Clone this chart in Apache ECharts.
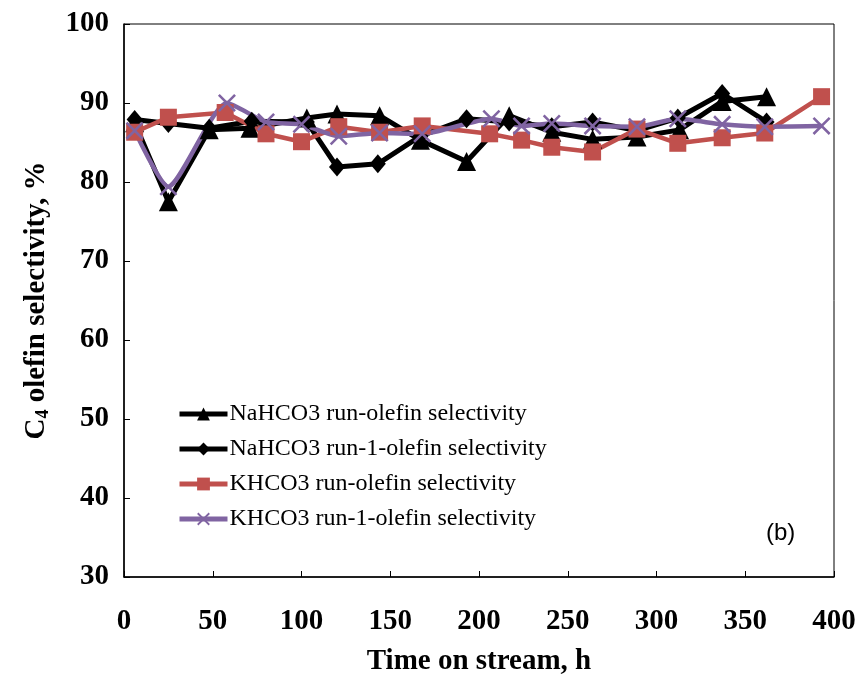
<!DOCTYPE html>
<html>
<head>
<meta charset="utf-8">
<script src="https://cdn.jsdelivr.net/npm/echarts@6/dist/echarts.min.js"></script>
<style>html,body{margin:0;padding:0;background:#fff}#c{width:864px;height:682px}</style>
</head>
<body>
<div id="c"></div>
<script>
var seriesNames = ['NaHCO3 run-olefin selectivity','NaHCO3 run-1-olefin selectivity','KHCO3 run-olefin selectivity','KHCO3 run-1-olefin selectivity'];
var naX  = [6, 25, 48, 71, 103, 120, 144, 167, 193, 217, 241, 264, 289, 313, 337, 362];
var naY  = [87.5, 77.5, 86.6, 86.8, 88.1, 88.6, 88.4, 85.3, 82.6, 88.4, 86.3, 85.4, 85.7, 86.6, 90.2, 90.8];
var na1X = [6, 25, 48, 72, 103, 120, 143, 167, 193, 217, 241, 264, 289, 312, 337, 362];
var na1Y = [87.9, 87.4, 86.8, 87.7, 87.6, 81.9, 82.3, 85.8, 88.0, 87.6, 87.0, 87.6, 86.5, 88.1, 91.2, 87.6];
var kX   = [6, 25, 57, 80, 100, 121, 144, 168, 206, 224, 241, 264, 289, 312, 337, 361, 393];
var kY   = [86.3, 88.2, 88.8, 86.1, 85.1, 87.0, 86.3, 87.1, 86.1, 85.3, 84.4, 83.8, 86.7, 84.9, 85.6, 86.2, 90.8];
var k1X  = [6, 25, 58, 80, 100, 121, 144, 168, 207, 224, 241, 264, 289, 312, 337, 361, 393];
var k1Y  = [86.5, 79.4, 90.0, 87.6, 87.3, 85.8, 86.2, 86.1, 88.0, 87.1, 87.4, 87.1, 87.0, 88.0, 87.3, 87.0, 87.1];

function pairs(xs, ys){ return xs.map(function(x,i){ return [x, ys[i]]; }); }

var serif = '"Liberation Serif","Times New Roman",serif';
var crossPath = 'path://M0,1L1,0L10,9L9,10Z M9,0L10,1L1,10L0,9Z';

var chart = echarts.init(document.getElementById('c'), null, {renderer:'canvas'});
chart.setOption({
  animation: false,
  backgroundColor: '#fff',
  grid: {left:124, right:30, top:24, bottom:105, show:true, borderColor:'#000', borderWidth:1},
  legend: {
    left: 172, top: 397, orient: 'vertical', itemWidth: 48, itemHeight: 16, itemGap: 11,
    lineStyle: {width: 5},
    textStyle: {fontFamily: serif, fontSize: 24, color:'#000', padding:[0,0,0,-3]},
    data: seriesNames
  },
  xAxis: {
    type:'value', min:0, max:400, interval:50,
    name:'Time on stream, h', nameLocation:'middle', nameGap:70,
    nameTextStyle:{fontFamily:serif, fontSize:29, fontWeight:'bold', color:'#000'},
    axisLine:{show:true, lineStyle:{color:'#000', width:1.5}},
    axisTick:{inside:true, length:6, lineStyle:{color:'#000'}},
    axisLabel:{margin:30, fontFamily:serif, fontSize:29, fontWeight:'bold', color:'#000'},
    splitLine:{show:false}
  },
  yAxis: {
    type:'value', min:30, max:100, interval:10,
    name:'{a|C}{s|4}{a| olefin selectivity, %}', nameLocation:'middle', nameGap:72, nameRotate:90,
    nameTextStyle:{
      rich:{
        a:{fontFamily:serif, fontSize:29, fontWeight:'bold', color:'#000'},
        s:{fontFamily:serif, fontSize:18, fontWeight:'bold', color:'#000', padding:[13,0,0,0]}
      }
    },
    axisLine:{show:true, lineStyle:{color:'#000', width:1.5}},
    axisTick:{inside:true, length:6, lineStyle:{color:'#000'}},
    axisLabel:{margin:15, fontFamily:serif, fontSize:29, fontWeight:'bold', color:'#000'},
    splitLine:{show:false}
  },
  graphic: [{type:'text', left:766, top:521, style:{text:'(b)', font:'24px "Liberation Sans", Arial, sans-serif', fill:'#000'}}],
  series: [
    {name:seriesNames[0], type:'line', data:pairs(naX, naY), symbol:'triangle', symbolSize:19,
     lineStyle:{color:'#000', width:5}, itemStyle:{color:'#000'}},
    {name:seriesNames[1], type:'line', data:pairs(na1X, na1Y), symbol:'diamond', symbolSize:[16,19],
     lineStyle:{color:'#000', width:5}, itemStyle:{color:'#000'}},
    {name:seriesNames[2], type:'line', data:pairs(kX, kY), symbol:'rect', symbolSize:17,
     lineStyle:{color:'#C0504D', width:4.5}, itemStyle:{color:'#C0504D'}},
    {name:seriesNames[3], type:'line', data:pairs(k1X, k1Y), symbol:crossPath, symbolSize:18, smooth:0.2,
     lineStyle:{color:'#8064A2', width:4.5}, itemStyle:{color:'#8064A2'}}
  ]
});
</script>
</body>
</html>
